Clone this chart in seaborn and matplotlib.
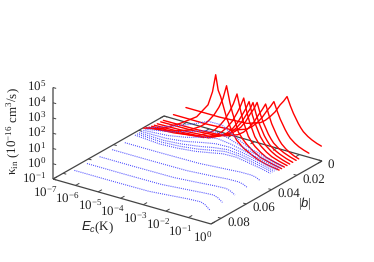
"""Coupling rate surface, drawn as curves on a hand made oblique projection."""

import matplotlib
matplotlib.use("Agg")
import matplotlib.pyplot as plt
import numpy as np
import pandas as pd
import seaborn as sns

sns.set_style("white")
plt.rcParams['font.family'] = ['Liberation Serif', 'DejaVu Sans']
plt.rcParams['mathtext.fontset'] = 'custom'
plt.rcParams['mathtext.rm'] = 'Liberation Serif'
plt.rcParams['mathtext.it'] = 'Liberation Sans:italic'
plt.rcParams['mathtext.default'] = 'regular'
plt.rcParams['text.hinting'] = 'none'
plt.rcParams['text.hinting_factor'] = 1

# Data: log10(Ec), log10(kappa) per |b|
red_b = [0.0005, 0.0104, 0.0184, 0.0205, 0.0232, 0.0256, 0.0277, 0.0298, 0.032, 0.034]
red_logE = [
    [-6, -4.5, -3.3, -2.7, -2.48, -2.27, -2.05, -1.83, -1.67, -1.52, -1.37, -1.24, -1.02, -0.91, -0.8, -0.6, -0.42, -0.2, 0],
    [-6, -4.5, -3.35, -2.75, -2.52, -2.3, -2.08, -1.86, -1.7, -1.55, -1.4, -1.27, -1.05, -0.94, -0.83, -0.63, -0.45, -0.22, 0],
    [-6, -4.5, -3.3, -2.7, -2.45, -2.22, -2.0, -1.78, -1.62, -1.47, -1.32, -1.2, -0.98, -0.87, -0.76, -0.57, -0.4, -0.2, 0],
    [-6, -4.6, -3.5, -2.95, -2.7, -2.45, -2.24, -2.03, -1.87, -1.73, -1.58, -1.45, -1.23, -1.11, -1.0, -0.77, -0.55, -0.27, 0],
    [-6, -4.6, -3.55, -3, -2.75, -2.5, -2.28, -2.06, -1.9, -1.76, -1.61, -1.48, -1.26, -1.14, -1.03, -0.8, -0.58, -0.29, 0],
    [-6, -4.7, -3.6, -3.05, -2.78, -2.52, -2.31, -2.1, -1.95, -1.8, -1.65, -1.52, -1.3, -1.17, -1.05, -0.82, -0.6, -0.3, 0],
    [-6, -4.8, -3.7, -3.15, -2.9, -2.65, -2.43, -2.22, -2.07, -1.92, -1.78, -1.66, -1.43, -1.29, -1.15, -0.91, -0.68, -0.34, 0],
    [-6, -4.9, -3.9, -3.35, -3.1, -2.85, -2.63, -2.42, -2.26, -2.1, -1.96, -1.84, -1.6, -1.45, -1.3, -1.05, -0.8, -0.4, 0],
    [-6, -5, -4.1, -3.6, -3.4, -3.2, -2.99, -2.78, -2.6, -2.44, -2.29, -2.18, -1.92, -1.73, -1.55, -1.25, -0.95, -0.47, 0],
    [-6, -5.13, -4.4, -4.05, -3.65, -3.15, -2.95, -2.81, -2.7, -2.59, -2.32, -2.1, -1.88, -1.6, -1.3, -0.95, -0.6, -0.3, 0],
]
red_logk = [
    [0, 0, 0.1, 0.4, 0.65, 0.98, 1.38, 1.93, 2.25, 2.61, 2.05, 1.63, 1.05, 0.81, 0.61, 0.38, 0.23, 0.09, 0],
    [0, 0, 0.1, 0.42, 0.68, 1.02, 1.45, 2.0, 2.35, 2.73, 2.15, 1.7, 1.1, 0.85, 0.64, 0.4, 0.24, 0.1, 0],
    [0, 0.02, 0.12, 0.45, 0.72, 1.1, 1.55, 2.15, 2.55, 2.98, 2.3, 1.8, 1.15, 0.88, 0.66, 0.41, 0.25, 0.1, 0],
    [0, 0.03, 0.15, 0.5, 0.77, 1.15, 1.6, 2.2, 2.6, 3.07, 2.35, 1.85, 1.2, 0.93, 0.72, 0.46, 0.28, 0.12, 0],
    [0, 0.05, 0.17, 0.52, 0.8, 1.2, 1.65, 2.25, 2.68, 3.18, 2.42, 1.9, 1.22, 0.95, 0.74, 0.47, 0.3, 0.13, 0],
    [0.02, 0.08, 0.2, 0.58, 0.86, 1.28, 1.75, 2.35, 2.8, 3.34, 2.5, 1.98, 1.25, 0.98, 0.76, 0.49, 0.3, 0.13, 0],
    [0.05, 0.12, 0.28, 0.68, 0.98, 1.4, 1.88, 2.5, 3.0, 3.62, 2.75, 2.15, 1.3, 1.0, 0.78, 0.5, 0.3, 0.13, 0],
    [0.08, 0.18, 0.4, 0.82, 1.12, 1.55, 2.03, 2.65, 3.2, 3.91, 3.0, 2.3, 1.35, 1.03, 0.8, 0.52, 0.3, 0.13, 0],
    [0.15, 0.35, 0.8, 1.25, 1.5, 1.85, 2.28, 2.85, 3.5, 4.41, 3.35, 2.75, 1.6, 1.22, 0.95, 0.6, 0.35, 0.15, 0],
    [0.22, 0.58, 1.2, 1.55, 1.96, 2.95, 3.9, 5.07, 4.1, 3.73, 2.42, 1.7, 1.17, 0.8, 0.55, 0.3, 0.15, 0.06, 0],
]

far_b = [0.08, 0.07, 0.06, 0.05, 0.04]
far_logE = [-6.5, -5, -3.2, -2, -1.4, -0.9, -0.7, -0.5]
far_logk = [
    [-0.6, -0.6, -0.58, -0.42, -0.34, -0.3, -0.42, -0.67],
    [-0.62, -0.62, -0.6, -0.45, -0.37, -0.32, -0.42, -0.64],
    [-0.64, -0.64, -0.62, -0.48, -0.4, -0.36, -0.45, -0.63],
    [-0.65, -0.65, -0.63, -0.5, -0.42, -0.4, -0.47, -0.62],
    [-0.66, -0.66, -0.63, -0.5, -0.43, -0.42, -0.48, -0.62],
]

near_b = [0.032, 0.0303, 0.0287, 0.027, 0.0253, 0.0237, 0.022]
near_logE = [-6.5, -5.4, -4.6, -3.8, -3.2, -2.6, -2, -1.4, -0.9, -0.5]
near_logk = [
    [-0.54, -0.66, -0.6, -0.47, -0.3, -0.12, -0.1, -0.25, -0.38, -0.52],
    [-0.54, -0.62, -0.55, -0.4, -0.22, -0.05, -0.08, -0.24, -0.38, -0.52],
    [-0.54, -0.58, -0.48, -0.3, -0.12, 0.0, -0.06, -0.23, -0.38, -0.53],
    [-0.54, -0.52, -0.38, -0.12, 0.05, 0.08, -0.04, -0.22, -0.38, -0.53],
    [-0.54, -0.42, -0.2, 0.15, 0.3, 0.18, -0.02, -0.21, -0.38, -0.53],
    [-0.54, -0.25, 0.1, 0.5, 0.6, 0.3, 0.02, -0.2, -0.38, -0.54],
    [-0.54, 0.04, 0.5, 1.03, 1.04, 0.5, 0.05, -0.2, -0.38, -0.54],
]

E_ticks = [-7, -6, -5, -4, -3, -2, -1, 0]
b_ticks = [0, 0.02, 0.04, 0.06, 0.08]
b_labels = ['0', '0.02', '0.04', '0.06', '0.08']
k_ticks = [-1, 0, 1, 2, 3, 4, 5]
B_MAX = 0.088


def project(logE, b, logk):
    """Map (log10 Ec, |b|, log10 kappa) to picture pixels."""
    u = (np.asarray(logE, dtype=float) + 7) / 7
    w = 1 - np.asarray(b, dtype=float) / B_MAX
    z = np.asarray(logk, dtype=float) + 1
    return 53 + 158 * u + 111 * w, 179 + 45 * u - 63 * w - 15.25 * z


def curves_frame(bs, logEs, logks):
    rows = []
    for i, (b, logE, logk) in enumerate(zip(bs, logEs, logks)):
        px, py = project(logE, b, logk)
        rows.append(pd.DataFrame({'px': px, 'py': py, 'curve': i}))
    return pd.concat(rows, ignore_index=True)


fig = plt.figure(figsize=(3.74, 2.62), dpi=100)
ax = fig.add_axes([0, 0, 1, 1])

# Box edges and ticks
axis_color = '#444444'


def seg(p0, p1, lw=0.9):
    x0, y0 = project(*p0)
    x1, y1 = project(*p1)
    ax.plot([x0, x1], [y0, y1], color=axis_color, lw=lw, solid_capstyle='butt', snap=False)


seg((-7, B_MAX, -1), (0, B_MAX, -1))
seg((0, B_MAX, -1), (0, 0, -1))
seg((-7, B_MAX, -1), (-7, 0, -1))
seg((-7, 0, -1), (0, 0, -1))
seg((-7, B_MAX, -1), (-7, B_MAX, 5))
for t in E_ticks:
    seg((t, B_MAX, -1), (t, B_MAX - 0.003, -1), lw=0.7)
    seg((t, 0, -1), (t, 0.003, -1), lw=0.7)
for t in b_ticks:
    seg((0, t, -1), (-0.14, t, -1), lw=0.7)
    seg((-7, t, -1), (-6.86, t, -1), lw=0.7)
for t in k_ticks:
    seg((-7, B_MAX, t), (-6.86, B_MAX, t), lw=0.7)

# Curves
sns.lineplot(data=curves_frame(red_b, red_logE, red_logk), x='px', y='py', units='curve',
             estimator=None, sort=False, color='#ff0000', lw=1.0, ax=ax, legend=False)
for bs, logE, logk in ((far_b, far_logE, far_logk), (near_b, near_logE, near_logk)):
    sns.lineplot(data=curves_frame(bs, [logE] * len(bs), logk), x='px', y='py', units='curve',
                 estimator=None, sort=False, color='#4a4aff', lw=0.8,
                 linestyle=(0, (0.9, 1.0)), snap=False, ax=ax, legend=False)

# Tick labels
fs = 9.6
for t in k_ticks:
    px, py = project(-7, B_MAX, t)
    ax.text(46, py - 0.5, f'$10^{{{t}}}$', ha='right', va='center', fontsize=fs, color='#222222')
for t in E_ticks:
    px, py = project(t, B_MAX, -1)
    ax.text(px - 8, py + 13.5, f'$10^{{{t}}}$', ha='center', va='center', fontsize=fs, color='#222222')
for t, lab in zip(b_ticks, b_labels):
    px, py = project(0, t, -1)
    ax.text(px + 6, py + 4, lab, ha='left', va='center', fontsize=fs, color='#222222')

# Axis titles
ax.text(13, 131, r'$\kappa_{in}$ $(10^{-16}$ cm$^3$/s)', rotation=90, ha='center', va='center',
        fontsize=fs, color='#222222')
ax.text(98, 227, r'$\mathit{E_c}$(K)', ha='center', va='center', fontsize=fs, color='#222222')
ax.text(305, 204, r'$|\mathit{b}|$', ha='center', va='center', fontsize=fs, color='#222222')

ax.set_xlim(0, 374)
ax.set_ylim(262, 0)
ax.axis('off')

fig.savefig('out.png', dpi=100)
